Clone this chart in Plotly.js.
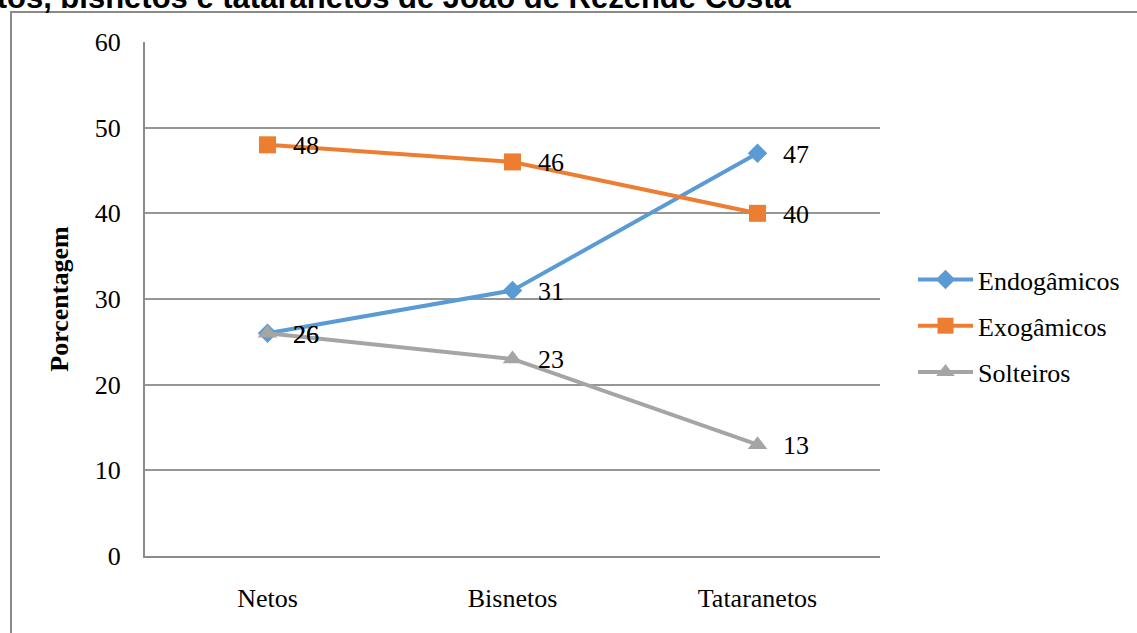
<!DOCTYPE html>
<html>
<head>
<meta charset="utf-8">
<script src="https://cdn.plot.ly/plotly-3.0.1.min.js"></script>
<style>
html,body{margin:0;padding:0;background:#fff;}
#chart{width:1137px;height:633px;}
</style>
</head>
<body>
<div id="chart"></div>
<script>
const categories = ["Netos", "Bisnetos", "Tataranetos"];
const endogamicos = [26, 31, 47];
const exogamicos = [48, 46, 40];
const solteiros = [26, 23, 13];
const seriesNames = ["Endogâmicos", "Exogâmicos", "Solteiros"];
const yTicks = [0, 10, 20, 30, 40, 50, 60];
const titleText = "Netos, bisnetos e tataranetos de João de Rezende Costa";
const yTitle = "Porcentagem";

const seriesValues = [endogamicos, exogamicos, solteiros];
const colors = ["#5B9BD5", "#ED7D31", "#A5A5A5"];
const symbols = ["diamond", "square", "triangle-up"];
const sizes = [15, 17, 17];

const serif = "Liberation Serif";

const traces = seriesValues.map((vals, i) => ({
  type: "scatter",
  mode: "lines+markers",
  name: seriesNames[i],
  legendgroup: "g" + i,
  x: categories,
  y: vals,
  line: {color: colors[i], width: 4},
  marker: {symbol: symbols[i], size: sizes[i], color: colors[i], line: {width: 0}},
  cliponaxis: false,
  hoverinfo: "skip"
}));

const L = 145, R = 880, T = 42, B = 556;
const W = R - L, H = B - T;
const px = v => (v - L) / W;
const py = v => (B - v) / H;

const annotations = [];
seriesValues.forEach((vals) => {
  vals.forEach((v, j) => {
    annotations.push({
      x: categories[j], y: v, xref: "x", yref: "y",
      text: String(v), showarrow: false,
      xanchor: "left", yanchor: "middle", xshift: 23, yshift: -1,
      font: {family: serif, size: 26, color: "#000"}
    });
  });
});
annotations.push({
  x: px(794), y: py(-3), xref: "paper", yref: "paper",
  text: "<b>" + titleText + "</b>", showarrow: false,
  xanchor: "right", yanchor: "middle",
  font: {family: "Liberation Sans", size: 31, color: "#000"}
});

const layout = {
  width: 1137, height: 633,
  margin: {l: L, r: 1137 - R, t: T, b: 633 - B, pad: 0},
  paper_bgcolor: "#fff", plot_bgcolor: "#fff",
  showlegend: true,
  legend: {
    x: px(913), y: py(256), xanchor: "left", yanchor: "top",
    font: {family: serif, size: 26, color: "#000"},
    itemwidth: 55, tracegroupgap: 9.5, bgcolor: "rgba(0,0,0,0)",
    traceorder: "grouped"
  },
  xaxis: {
    type: "category", range: [-0.5, 2.5], showgrid: false, zeroline: false,
    showline: true, linecolor: "#8c8c8c", linewidth: 2,
    ticks: "", tickfont: {family: serif, size: 26, color: "#000"},
    ticklabelstandoff: 18, automargin: false
  },
  yaxis: {
    range: [0, 60], tickvals: yTicks, showgrid: true, gridcolor: "#969696", gridwidth: 2,
    zeroline: false, showline: true, linecolor: "#8c8c8c", linewidth: 2,
    ticks: "",
    tickfont: {family: serif, size: 26, color: "#000"},
    ticklabelstandoff: 17, automargin: false,
    title: {text: "<b>" + yTitle + "</b>", font: {family: serif, size: 26, color: "#000"}, standoff: 19}
  },
  shapes: [{
    type: "rect", xref: "paper", yref: "paper",
    x0: px(11), x1: px(1145), y0: py(12), y1: py(645),
    line: {color: "#898989", width: 2}, fillcolor: "rgba(0,0,0,0)", layer: "below"
  }],
  annotations: annotations
};

Plotly.newPlot("chart", traces, layout, {staticPlot: true, displayModeBar: false});
</script>
</body>
</html>
